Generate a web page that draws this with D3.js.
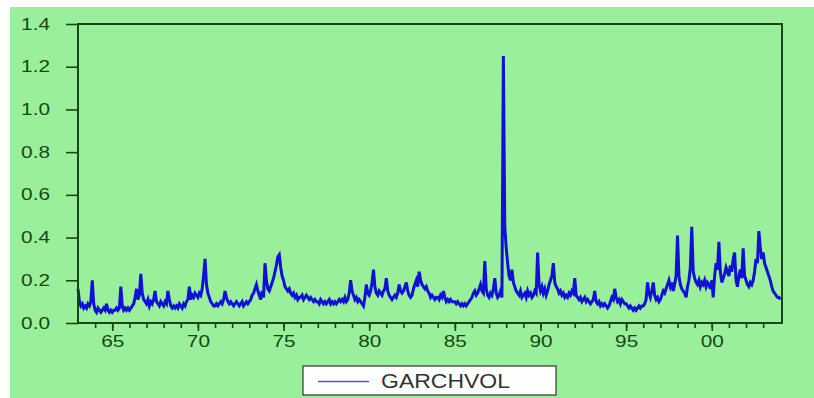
<!DOCTYPE html>
<html>
<head>
<meta charset="utf-8">
<script src="https://cdn.jsdelivr.net/npm/d3@7.9.0/dist/d3.min.js"></script>
<style>
  body { margin: 0; background: #fff; }
  svg { display: block; }
</style>
</head>
<body>
<div id="chart"></div>
<script>
// monthly GARCH volatility (one row per year)
const startYear = 1963;
const vol1960s = [
  0.16, 0.10, 0.08, 0.09, 0.07, 0.08, 0.07, 0.09, 0.08, 0.10, 0.20, 0.09, // 63
  0.06, 0.05, 0.07, 0.06, 0.05, 0.06, 0.07, 0.06, 0.09, 0.06, 0.05, 0.06, // 64
  0.05, 0.06, 0.06, 0.07, 0.06, 0.07, 0.17, 0.08, 0.06, 0.07, 0.06, 0.07, // 65
  0.06, 0.07, 0.08, 0.09, 0.12, 0.16, 0.11, 0.13, 0.23, 0.14, 0.11, 0.10, // 66
  0.09, 0.11, 0.08, 0.10, 0.09, 0.11, 0.15, 0.10, 0.09, 0.08, 0.10, 0.09, // 67
  0.08, 0.10, 0.09, 0.15, 0.11, 0.08, 0.07, 0.08, 0.07, 0.08, 0.07, 0.09, // 68
  0.08, 0.07, 0.09, 0.08, 0.10, 0.11, 0.17, 0.11, 0.13, 0.12, 0.14, 0.13  // 69
];
const vol1970s = [
  0.12, 0.14, 0.13, 0.16, 0.22, 0.30, 0.18, 0.14, 0.12, 0.10, 0.09, 0.08, // 70
  0.08, 0.09, 0.08, 0.09, 0.10, 0.09, 0.11, 0.15, 0.12, 0.10, 0.09, 0.10, // 71
  0.09, 0.08, 0.09, 0.10, 0.09, 0.08, 0.09, 0.10, 0.08, 0.09, 0.10, 0.09, // 72
  0.10, 0.11, 0.13, 0.14, 0.16, 0.18, 0.15, 0.13, 0.11, 0.15, 0.12, 0.28, // 73
  0.20, 0.16, 0.15, 0.17, 0.19, 0.21, 0.24, 0.27, 0.31, 0.32, 0.26, 0.22, // 74
  0.20, 0.17, 0.16, 0.15, 0.16, 0.14, 0.13, 0.14, 0.12, 0.13, 0.11, 0.12, // 75
  0.12, 0.13, 0.11, 0.12, 0.13, 0.12, 0.11, 0.12, 0.11, 0.10, 0.11, 0.10, // 76
  0.10, 0.09, 0.11, 0.10, 0.09, 0.10, 0.09, 0.10, 0.11, 0.09, 0.10, 0.09, // 77
  0.10, 0.09, 0.10, 0.11, 0.10, 0.11, 0.10, 0.12, 0.10, 0.11, 0.14, 0.20, // 78
  0.15, 0.13, 0.11, 0.12, 0.10, 0.11, 0.10, 0.09, 0.08, 0.12, 0.18, 0.14  // 79
];
const vol1980s = [
  0.13, 0.15, 0.19, 0.25, 0.17, 0.14, 0.13, 0.15, 0.14, 0.13, 0.15, 0.16, // 80
  0.21, 0.15, 0.13, 0.12, 0.11, 0.12, 0.13, 0.12, 0.14, 0.18, 0.15, 0.14, // 81
  0.15, 0.17, 0.19, 0.15, 0.13, 0.12, 0.13, 0.16, 0.18, 0.20, 0.17, 0.24, // 82
  0.20, 0.18, 0.17, 0.16, 0.17, 0.15, 0.14, 0.12, 0.13, 0.12, 0.11, 0.12, // 83
  0.12, 0.11, 0.13, 0.12, 0.15, 0.12, 0.10, 0.11, 0.10, 0.11, 0.10, 0.10, // 84
  0.10, 0.09, 0.10, 0.09, 0.08, 0.09, 0.08, 0.09, 0.08, 0.09, 0.10, 0.11, // 85
  0.12, 0.14, 0.15, 0.13, 0.14, 0.16, 0.18, 0.15, 0.14, 0.29, 0.16, 0.13, // 86
  0.12, 0.14, 0.13, 0.16, 0.21, 0.14, 0.12, 0.13, 0.15, 0.12, 1.25, 0.45, // 87
  0.35, 0.28, 0.22, 0.20, 0.25, 0.19, 0.17, 0.15, 0.14, 0.13, 0.15, 0.12, // 88
  0.13, 0.14, 0.12, 0.15, 0.13, 0.14, 0.12, 0.13, 0.15, 0.14, 0.33, 0.18  // 89
];
const vol1990s = [
  0.15, 0.17, 0.14, 0.16, 0.13, 0.15, 0.18, 0.20, 0.22, 0.28, 0.19, 0.17, // 90
  0.16, 0.14, 0.15, 0.13, 0.14, 0.12, 0.13, 0.12, 0.14, 0.13, 0.15, 0.14, // 91
  0.21, 0.13, 0.12, 0.11, 0.12, 0.10, 0.11, 0.12, 0.10, 0.11, 0.10, 0.09, // 92
  0.10, 0.11, 0.15, 0.10, 0.09, 0.10, 0.08, 0.09, 0.08, 0.09, 0.08, 0.07, // 93
  0.08, 0.10, 0.12, 0.11, 0.16, 0.12, 0.10, 0.11, 0.09, 0.11, 0.10, 0.09, // 94
  0.09, 0.08, 0.07, 0.08, 0.07, 0.06, 0.07, 0.06, 0.07, 0.08, 0.07, 0.08, // 95
  0.08, 0.09, 0.11, 0.19, 0.14, 0.12, 0.15, 0.19, 0.13, 0.11, 0.12, 0.10, // 96
  0.11, 0.13, 0.15, 0.14, 0.16, 0.18, 0.20, 0.17, 0.19, 0.15, 0.18, 0.22, // 97
  0.41, 0.22, 0.18, 0.16, 0.15, 0.14, 0.12, 0.17, 0.20, 0.26, 0.45, 0.24, // 98
  0.21, 0.19, 0.18, 0.20, 0.17, 0.19, 0.18, 0.20, 0.17, 0.19, 0.18, 0.16  // 99
];
const vol2000s = [
  0.20, 0.12, 0.22, 0.28, 0.25, 0.38, 0.24, 0.19, 0.21, 0.23, 0.26, 0.24, // 00
  0.22, 0.27, 0.24, 0.30, 0.33, 0.20, 0.17, 0.22, 0.25, 0.21, 0.35, 0.22, // 01
  0.20, 0.18, 0.17, 0.19, 0.18, 0.20, 0.24, 0.30, 0.28, 0.43, 0.35, 0.30, // 02
  0.33, 0.28, 0.26, 0.24, 0.22, 0.20, 0.17, 0.15, 0.14, 0.13, 0.12, 0.12, // 03
  0.11                                                                    // 04
];

const yTicks = [0, 0.2, 0.4, 0.6, 0.8, 1.0, 1.2, 1.4];
const majorYears = [1965, 1970, 1975, 1980, 1985, 1990, 1995, 2000];
const minorYears = d3.range(1964, 2004);
const xDomain = [1963, 2004.1];
const seriesName = 'GARCHVOL';

const series = [...vol1960s, ...vol1970s, ...vol1980s, ...vol1990s, ...vol2000s]
  .map((v, i) => ({ t: startYear + i / 12, v }));

const width = 814;
const height = 398;
const ink = '#174717';
const labelFont = '16px "Liberation Sans", Arial, sans-serif';
const stretch = 1.3; // the picture's lettering is wider than plain Arial
const margin = { top: 24, right: 32, bottom: 75, left: 78 };

const svg = d3.select('#chart').append('svg')
  .attr('width', width)
  .attr('height', height);

// green panel (white strip left and top)
svg.append('rect')
  .attr('x', 10).attr('y', 7)
  .attr('width', width - 10).attr('height', height - 7)
  .attr('fill', '#9af09a');

const x = d3.scaleLinear().domain(xDomain).range([margin.left, width - margin.right]);
const y = d3.scaleLinear().domain([0, 1.4]).range([height - margin.bottom, margin.top]);

// y axis
const yAxis = svg.append('g')
  .attr('transform', `translate(${margin.left},0)`)
  .call(d3.axisLeft(y).tickValues(yTicks).tickSize(12).tickPadding(16)
    .tickFormat(d3.format('.1f')));
yAxis.select('.domain').remove();
yAxis.selectAll('line').attr('stroke', ink).attr('stroke-width', 1.6);
yAxis.selectAll('text')
  .attr('fill', ink)
  .attr('x', -28 / stretch)
  .attr('transform', `scale(${stretch},1)`)
  .style('font', labelFont);

// x axis, yearly minor ticks + 5-year major ticks
const xMinor = svg.append('g')
  .attr('transform', `translate(0,${y(0)})`)
  .call(d3.axisBottom(x).tickValues(minorYears).tickSize(5).tickFormat(''));
xMinor.select('.domain').remove();
xMinor.selectAll('line').attr('stroke', ink).attr('stroke-width', 1.6);

const xMajor = svg.append('g')
  .attr('transform', `translate(0,${y(0)})`)
  .call(d3.axisBottom(x).tickValues(majorYears).tickSize(8).tickPadding(5)
    .tickFormat((d) => String(d % 100).padStart(2, '0')));
xMajor.select('.domain').remove();
xMajor.selectAll('line').attr('stroke', ink).attr('stroke-width', 1.6);
xMajor.selectAll('text')
  .attr('fill', ink)
  .attr('transform', `scale(${stretch},1)`)
  .style('font', labelFont);

// the series
const line = d3.line().x((d) => x(d.t)).y((d) => y(d.v));
svg.append('path')
  .datum(series)
  .attr('fill', 'none')
  .attr('stroke', '#1010d8')
  .attr('stroke-width', 3)
  .attr('stroke-linejoin', 'miter')
  .attr('d', line);

// frame
svg.append('rect')
  .attr('x', margin.left).attr('y', margin.top)
  .attr('width', x.range()[1] - margin.left)
  .attr('height', y(0) - margin.top)
  .attr('fill', 'none')
  .attr('stroke', ink)
  .attr('stroke-width', 2);

// legend
const legend = svg.append('g').attr('transform', 'translate(303,366)');
legend.append('rect')
  .attr('width', 253).attr('height', 29)
  .attr('fill', '#fff')
  .attr('stroke', '#333').attr('stroke-width', 1.2);
legend.append('line')
  .attr('x1', 15).attr('x2', 66).attr('y1', 15.5).attr('y2', 15.5)
  .attr('stroke', '#5555cc').attr('stroke-width', 1.5);
legend.append('text')
  .attr('x', 78).attr('y', 22)
  .attr('fill', '#333')
  .attr('textLength', 129)
  .attr('lengthAdjust', 'spacingAndGlyphs')
  .style('font', '21px "Liberation Sans", Arial, sans-serif')
  .text(seriesName);
</script>
</body>
</html>
